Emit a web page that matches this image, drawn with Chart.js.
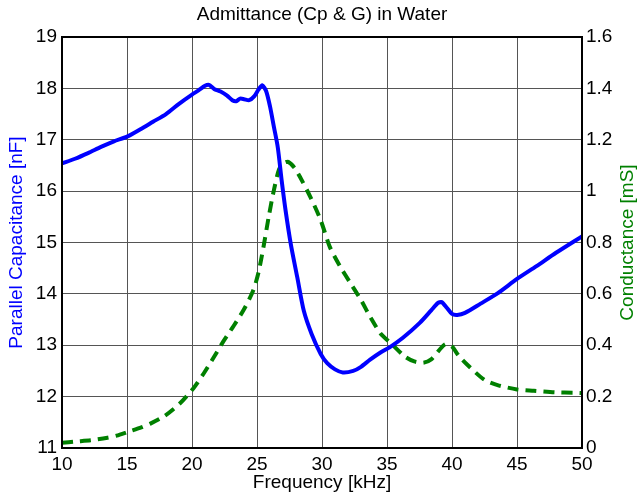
<!DOCTYPE html>
<html>
<head>
<meta charset="utf-8">
<script src="https://cdn.jsdelivr.net/npm/chart.js@4/dist/chart.umd.min.js"></script>
<style>
  body { margin: 0; background: #fff; }
</style>
</head>
<body>
<canvas id="admChart" width="637" height="495"></canvas>
<script>
// Cp (parallel capacitance, nF)
const freqCp = [10, 11, 12, 13, 14, 15, 16, 17, 18, 19, 20, 20.5, 21, 21.3, 21.7, 22.2, 22.7, 23.1, 23.4, 23.7, 24.0, 24.4, 24.8, 25.1, 25.4, 25.7, 26.0, 26.3, 26.6, 26.9, 27.2, 27.6, 28.1, 28.6, 29.2, 29.9, 30.4, 31.0, 31.6, 32.4, 33.0, 33.7, 34.5, 35.2, 36.2, 37.5, 38.4, 38.9, 39.2, 39.6, 40.0, 40.4, 41.0, 42.2, 43.5, 45, 46.5, 48, 50];
const cpValues = [16.54, 16.63, 16.74, 16.86, 16.97, 17.06, 17.2, 17.35, 17.5, 17.7, 17.88, 17.96, 18.05, 18.07, 17.99, 17.94, 17.86, 17.77, 17.75, 17.8, 17.79, 17.77, 17.85, 17.97, 18.06, 17.95, 17.65, 17.25, 16.85, 16.2, 15.62, 14.97, 14.32, 13.67, 13.22, 12.83, 12.65, 12.53, 12.47, 12.5, 12.58, 12.72, 12.86, 12.96, 13.14, 13.43, 13.68, 13.82, 13.84, 13.73, 13.61, 13.59, 13.63, 13.81, 14.01, 14.29, 14.54, 14.8, 15.12];

// G (conductance, mS)
const freqG = [10, 11, 12.2, 13.5, 14.2, 15.2, 16, 16.8, 17.9, 19.1, 20.1, 20.9, 21.7, 22.4, 23.2, 24.0, 24.7, 25.1, 25.5, 25.9, 26.3, 26.7, 27.1, 27.4, 27.9, 28.3, 29.1, 29.9, 30.6, 31.4, 32.2, 33.0, 33.7, 34.5, 35.3, 36.4, 37.1, 37.8, 38.4, 39.0, 39.5, 40.0, 40.5, 41.2, 42.5, 43.5, 45, 46.3, 47.9, 49.4, 50];
const gValues = [0.02, 0.025, 0.03, 0.04, 0.048, 0.065, 0.078, 0.095, 0.125, 0.175, 0.232, 0.29, 0.355, 0.414, 0.475, 0.54, 0.612, 0.68, 0.783, 0.9, 1.004, 1.085, 1.11, 1.114, 1.09, 1.056, 0.978, 0.887, 0.783, 0.706, 0.641, 0.576, 0.511, 0.446, 0.408, 0.355, 0.337, 0.332, 0.345, 0.38, 0.405, 0.395, 0.36, 0.323, 0.265, 0.245, 0.228, 0.223, 0.217, 0.215, 0.214];

// Marcas de los ejes
const xTicks = [10, 15, 20, 25, 30, 35, 40, 45, 50];
const cpTicks = [11, 12, 13, 14, 15, 16, 17, 18, 19];
const gTicks = [0, 0.2, 0.4, 0.6, 0.8, 1, 1.2, 1.4, 1.6];
const gTickLabels = ['0', '0.2', '0.4', '0.6', '0.8', '1', '1.2', '1.4', '1.6'];

const FONT = 'Liberation Sans, Arial, Helvetica, sans-serif';
Chart.defaults.font.family = FONT;
Chart.defaults.color = '#000';

function setTicks(values) {
  return (scale) => { scale.ticks = values.map(v => ({ value: v })); };
}

// Marco negro alrededor del area de trazado + titulo del eje derecho
const frameAndRightTitle = {
  id: 'frameAndRightTitle',
  afterDraw(chart) {
    const { ctx, chartArea: a } = chart;
    ctx.save();
    ctx.strokeStyle = '#000';
    ctx.lineWidth = 2;
    ctx.strokeRect(a.left, a.top, a.right - a.left, a.bottom - a.top);
    ctx.translate(633, (a.top + a.bottom) / 2);
    ctx.rotate(-Math.PI / 2);
    ctx.fillStyle = '#008000';
    ctx.font = '19px ' + FONT;
    ctx.textAlign = 'center';
    ctx.textBaseline = 'alphabetic';
    ctx.fillText('Conductance [mS]', 0, 0);
    ctx.restore();
  }
};

const ctx = document.getElementById('admChart').getContext('2d');
const admChart = new Chart(ctx, {
  type: 'line',
  data: {
    datasets: [
      {
        label: 'Cp',
        data: freqCp.map((f, i) => ({ x: f, y: cpValues[i] })),
        borderColor: '#0000ff',
        borderWidth: 4,
        pointRadius: 0,
        tension: 0.25,
        yAxisID: 'yCp',
      },
      {
        label: 'G',
        data: freqG.map((f, i) => ({ x: f, y: gValues[i] })),
        borderColor: '#008000',
        borderWidth: 4,
        borderDash: [11, 7],
        pointRadius: 0,
        tension: 0.25,
        yAxisID: 'yG',
      },
    ],
  },
  options: {
    responsive: false,
    animation: false,
    layout: { padding: 0 },
    plugins: {
      legend: { display: false },
      tooltip: { enabled: false },
      title: {
        display: true,
        fullSize: false,
        text: 'Admittance (Cp & G) in Water',
        color: '#000',
        font: { size: 19, weight: 'normal' },
        padding: { top: 3, bottom: 11.2 },
      },
    },
    scales: {
      x: {
        type: 'linear',
        min: 10,
        max: 50,
        afterBuildTicks: setTicks(xTicks),
        afterFit: (s) => { s.height = 47; },
        grid: { color: '#555', lineWidth: 1, drawTicks: false },
        border: { display: false },
        ticks: { font: { size: 19 }, padding: 5, maxRotation: 0 },
        title: {
          display: true,
          text: 'Frequency [kHz]',
          font: { size: 19 },
          padding: { top: 0, bottom: 0.6 },
        },
      },
      yCp: {
        position: 'left',
        min: 11,
        max: 19,
        afterBuildTicks: setTicks(cpTicks),
        afterFit: (s) => { s.width = 62; },
        grid: { color: '#555', lineWidth: 1, drawTicks: false },
        border: { display: false },
        ticks: { font: { size: 19 }, padding: 5 },
        title: {
          display: true,
          text: 'Parallel Capacitance [nF]',
          color: '#0000ff',
          font: { size: 19 },
          padding: { top: 5.3, bottom: 0 },
        },
      },
      yG: {
        position: 'right',
        min: 0,
        max: 1.6,
        afterBuildTicks: setTicks(gTicks),
        afterFit: (s) => { s.width = 55; },
        grid: { display: false, drawTicks: false },
        border: { display: false },
        ticks: {
          font: { size: 19 },
          padding: 4,
          callback: (v) => gTickLabels[gTicks.findIndex(t => Math.abs(t - v) < 1e-6)],
        },
      },
    },
  },
  plugins: [frameAndRightTitle],
});
</script>
</body>
</html>
